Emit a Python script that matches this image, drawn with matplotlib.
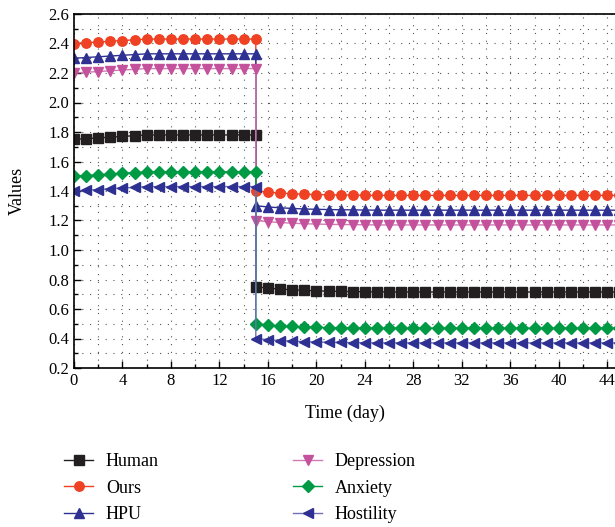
import matplotlib
matplotlib.use("Agg")
import matplotlib.pyplot as plt
from matplotlib.ticker import MultipleLocator
import numpy as np

plt.rcParams['font.family'] = ['Liberation Serif', 'DejaVu Serif']

# Days 0..15 before the switch, then 15..50 after it
days_before = list(range(0, 16))
days_after = list(range(15, 51))

human_before = [1.750, 1.755, 1.760, 1.765, 1.770, 1.775, 1.780, 1.780,
                1.780, 1.780, 1.780, 1.780, 1.780, 1.780, 1.780, 1.780]
ours_before = [2.400, 2.405, 2.410, 2.415, 2.420, 2.425, 2.430, 2.430,
               2.430, 2.430, 2.430, 2.430, 2.430, 2.430, 2.430, 2.430]
hpu_before = [2.300, 2.305, 2.310, 2.315, 2.320, 2.325, 2.330, 2.330,
              2.330, 2.330, 2.330, 2.330, 2.330, 2.330, 2.330, 2.330]
depression_before = [2.200, 2.205, 2.210, 2.215, 2.220, 2.225, 2.230, 2.230,
                     2.230, 2.230, 2.230, 2.230, 2.230, 2.230, 2.230, 2.230]
anxiety_before = [1.500, 1.505, 1.510, 1.515, 1.520, 1.525, 1.530, 1.530,
                  1.530, 1.530, 1.530, 1.530, 1.530, 1.530, 1.530, 1.530]
hostility_before = [1.400, 1.405, 1.410, 1.415, 1.420, 1.425, 1.430, 1.430,
                    1.430, 1.430, 1.430, 1.430, 1.430, 1.430, 1.430, 1.430]

human_after = [0.750, 0.742, 0.735, 0.730, 0.726, 0.723, 0.721, 0.719, 0.718,
               0.717, 0.716, 0.716, 0.715, 0.715, 0.715, 0.715, 0.715, 0.715,
               0.715, 0.715, 0.715, 0.715, 0.715, 0.715, 0.715, 0.715, 0.715,
               0.715, 0.715, 0.715, 0.715, 0.715, 0.715, 0.715, 0.715, 0.715]
ours_after = [1.400, 1.392, 1.386, 1.382, 1.378, 1.376, 1.374, 1.373, 1.372,
              1.371, 1.370, 1.370, 1.370, 1.370, 1.370, 1.370, 1.370, 1.370,
              1.370, 1.370, 1.370, 1.370, 1.370, 1.370, 1.370, 1.370, 1.370,
              1.370, 1.370, 1.370, 1.370, 1.370, 1.370, 1.370, 1.370, 1.370]
hpu_after = [1.300, 1.292, 1.286, 1.282, 1.278, 1.276, 1.274, 1.273, 1.272,
             1.271, 1.270, 1.270, 1.270, 1.270, 1.270, 1.270, 1.270, 1.270,
             1.270, 1.270, 1.270, 1.270, 1.270, 1.270, 1.270, 1.270, 1.270,
             1.270, 1.270, 1.270, 1.270, 1.270, 1.270, 1.270, 1.270, 1.270]
depression_after = [1.200, 1.192, 1.186, 1.182, 1.178, 1.176, 1.174, 1.173, 1.172,
                    1.171, 1.170, 1.170, 1.170, 1.170, 1.170, 1.170, 1.170, 1.170,
                    1.170, 1.170, 1.170, 1.170, 1.170, 1.170, 1.170, 1.170, 1.170,
                    1.170, 1.170, 1.170, 1.170, 1.170, 1.170, 1.170, 1.170, 1.170]
anxiety_after = [0.500, 0.492, 0.486, 0.482, 0.478, 0.476, 0.474, 0.473, 0.472,
                 0.471, 0.470, 0.470, 0.470, 0.470, 0.470, 0.470, 0.470, 0.470,
                 0.470, 0.470, 0.470, 0.470, 0.470, 0.470, 0.470, 0.470, 0.470,
                 0.470, 0.470, 0.470, 0.470, 0.470, 0.470, 0.470, 0.470, 0.470]
hostility_after = [0.400, 0.392, 0.386, 0.382, 0.378, 0.376, 0.374, 0.373, 0.372,
                   0.371, 0.370, 0.370, 0.370, 0.370, 0.370, 0.370, 0.370, 0.370,
                   0.370, 0.370, 0.370, 0.370, 0.370, 0.370, 0.370, 0.370, 0.370,
                   0.370, 0.370, 0.370, 0.370, 0.370, 0.370, 0.370, 0.370, 0.370]

series = [
    ("Human", human_before, human_after, 's', '#231f20', '#231f20'),
    ("Ours", ours_before, ours_after, 'o', '#ef4123', '#ef4123'),
    ("HPU", hpu_before, hpu_after, '^', '#2e3192', '#2e3192'),
    ("Depression", depression_before, depression_after, 'v', '#c4519c', '#d17bb4'),
    ("Anxiety", anxiety_before, anxiety_after, 'D', '#009a44', '#009a44'),
    ("Hostility", hostility_before, hostility_after, '<', '#2e3192', '#6f70b8'),
]

fig = plt.figure(figsize=(6.15, 5.27), dpi=100)
# axes run past the right edge of the figure, so the right part is cut off
ax = fig.add_axes([74 / 615, 159 / 527, 606 / 615, 354 / 527])

x = np.array(days_before + days_after)
for name, before, after, marker, mcolor, lcolor in series:
    y = np.array(before + after)
    ax.plot(x, y, color=lcolor, lw=1.0, marker=marker,
            markersize=6.8 if marker != 'D' else 6,
            markerfacecolor=mcolor, markeredgecolor=mcolor, label=name)

ax.set_xlim(0, 50)
ax.set_ylim(0.2, 2.6)
ax.xaxis.set_major_locator(MultipleLocator(4))
ax.xaxis.set_minor_locator(MultipleLocator(2))
ax.yaxis.set_major_locator(MultipleLocator(0.2))
ax.yaxis.set_minor_locator(MultipleLocator(0.1))
ax.yaxis.set_major_formatter(plt.FuncFormatter(lambda v, p: f"{v:.1f}"))
ax.tick_params(which='both', direction='in', labelsize=12, length=5, width=1,
               top=False, right=False)
ax.tick_params(which='minor', length=3)
ax.grid(True, which='both', color='#555555', linestyle=(0, (1, 6)), lw=0.8)
for s in ax.spines.values():
    s.set_linewidth(1.2)

ax.set_xlabel("Time (day)", fontsize=13)
ax.xaxis.set_label_coords(0.447, -0.105)
ax.set_ylabel("Values", fontsize=13)
ax.yaxis.set_label_coords(-0.079, 0.5)

fig.legend(loc='upper left', bbox_to_anchor=(48 / 615, 1 - 437 / 527), ncol=2,
           frameon=False, fontsize=13, columnspacing=7.45, handlelength=1.6,
           labelspacing=0.52, handletextpad=0.7)

fig.savefig("out.png", dpi=100)
